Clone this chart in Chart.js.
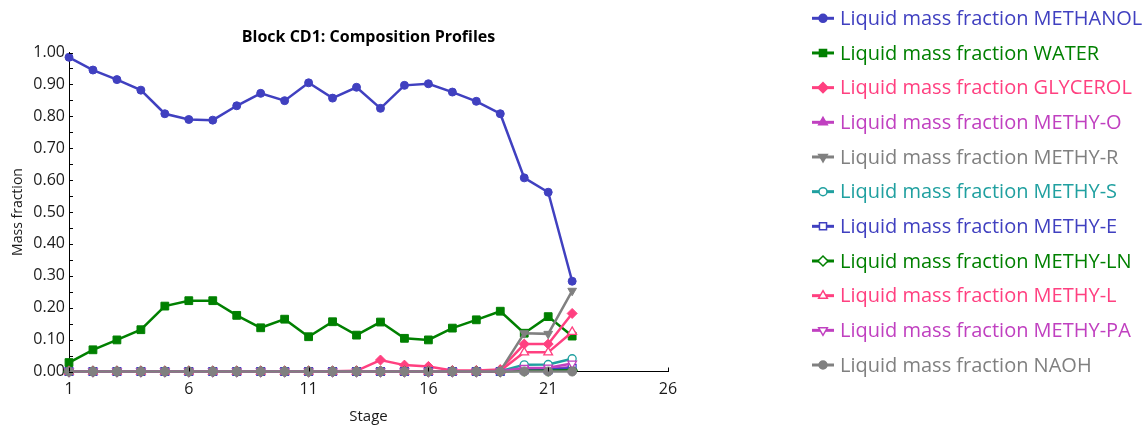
<!DOCTYPE html>
<html>
<head>
<meta charset="utf-8">
<script src="https://cdn.jsdelivr.net/npm/chart.js@4/dist/chart.umd.min.js"></script>
<style>
  html, body { margin: 0; padding: 0; background: #fff; }
  #wrap { width: 1147px; height: 426px; }
</style>
</head>
<body>
<div id="wrap"><canvas id="profiles" width="1147" height="426"></canvas></div>
<script>
// Column stages and liquid mass fractions per component
const stages = [1, 2, 3, 4, 5, 6, 7, 8, 9, 10, 11, 12, 13, 14, 15, 16, 17, 18, 19, 20, 21, 22];

const methanol = [0.985, 0.945, 0.915, 0.882, 0.808, 0.790, 0.788, 0.833, 0.872, 0.849, 0.905,
                  0.857, 0.891, 0.825, 0.897, 0.902, 0.876, 0.847, 0.808, 0.607, 0.562, 0.283];
const water    = [0.028, 0.068, 0.099, 0.131, 0.205, 0.222, 0.222, 0.176, 0.137, 0.164, 0.109,
                  0.156, 0.114, 0.155, 0.104, 0.099, 0.136, 0.162, 0.189, 0.120, 0.172, 0.111];
const glycerol = [0, 0, 0, 0, 0, 0.001, 0.001, 0.001, 0.001, 0.001, 0.001,
                  0.001, 0.002, 0.036, 0.020, 0.016, 0.003, 0.003, 0.006, 0.086, 0.086, 0.182];
const methyO   = [0, 0, 0, 0, 0, 0, 0, 0, 0, 0, 0,
                  0, 0, 0, 0, 0, 0, 0, 0.001, 0.008, 0.008, 0.014];
const methyR   = [0, 0, 0, 0, 0, 0, 0, 0, 0, 0, 0,
                  0, 0, 0, 0, 0, 0, 0, 0.002, 0.120, 0.118, 0.253];
const methyS   = [0, 0, 0, 0, 0, 0, 0, 0, 0, 0, 0,
                  0, 0, 0, 0, 0, 0, 0, 0.001, 0.021, 0.022, 0.040];
const methyE   = [0, 0, 0, 0, 0, 0, 0, 0, 0, 0, 0,
                  0, 0, 0, 0, 0, 0, 0, 0, 0.006, 0.006, 0.010];
const methyLN  = [0, 0, 0, 0, 0, 0, 0, 0, 0, 0, 0,
                  0, 0, 0, 0, 0, 0, 0, 0, 0.002, 0.002, 0.004];
const methyL   = [0, 0, 0, 0, 0, 0, 0, 0, 0, 0, 0,
                  0, 0, 0, 0, 0, 0, 0, 0.002, 0.060, 0.060, 0.124];
const methyPA  = [0, 0, 0, 0, 0, 0, 0, 0, 0, 0, 0,
                  0, 0, 0, 0, 0, 0, 0, 0.001, 0.011, 0.012, 0.025];
const naoh     = [0, 0, 0, 0, 0, 0, 0, 0, 0, 0, 0,
                  0, 0, 0, 0, 0, 0, 0, 0, 0, 0, 0];

const xTicks = [1, 6, 11, 16, 21, 26];

const BLUE = '#4040c0', GREEN = '#008000', PINK = '#ff4080', PURPLE = '#c040c0',
      GREY = '#808080', TEAL = '#20a0a0';

// name, values, colour, marker shape, rotation, filled
const series = [
    ['METHANOL', methanol, BLUE,   'circle',   0,   true],
    ['WATER',    water,    GREEN,  'rect',     0,   true],
    ['GLYCEROL', glycerol, PINK,   'rectRot',  0,   true],
    ['METHY-O',  methyO,   PURPLE, 'triangle', 0,   true],
    ['METHY-R',  methyR,   GREY,   'triangle', 180, true],
    ['METHY-S',  methyS,   TEAL,   'circle',   0,   false],
    ['METHY-E',  methyE,   BLUE,   'rect',     0,   false],
    ['METHY-LN', methyLN,  GREEN,  'rectRot',  0,   false],
    ['METHY-L',  methyL,   PINK,   'triangle', 0,   false],
    ['METHY-PA', methyPA,  PURPLE, 'triangle', 180, false],
    ['NAOH',     naoh,     GREY,   'circle',   0,   true],
];

const markerRadius = { circle: 4, rect: 5.5, rectRot: 5, triangle: 5 };

const datasets = series.map(([name, values, color, shape, rot, filled], i) => ({
    label: 'Liquid mass fraction ' + name,
    data: stages.map((s, k) => ({ x: s, y: values[k] })),
    borderColor: color,
    backgroundColor: color,
    borderWidth: 2.5,
    pointStyle: shape,
    pointRotation: rot,
    pointRadius: name === 'NAOH' ? 4.5 : markerRadius[shape],
    pointBackgroundColor: filled ? color : '#ffffff',
    pointBorderColor: color,
    pointBorderWidth: filled ? 1 : 1.3,
    tension: 0,
    clip: false,
    order: series.length - i
}));

const FONT = 'Open Sans';

// inward tick marks on both axes (minor ticks every 0.05 on y)
const innerTicks = {
    id: 'innerTicks',
    afterDraw(chart) {
        const { ctx, scales: { x, y } } = chart;
        ctx.save();
        ctx.strokeStyle = '#000';
        ctx.lineWidth = 1;
        ctx.beginPath();
        for (let k = 0; k <= 20; k++) {
            const py = Math.round(y.getPixelForValue(k * 0.05)) + 0.5;
            ctx.moveTo(x.left, py);
            ctx.lineTo(x.left + 4, py);
        }
        xTicks.forEach(t => {
            const px = Math.round(x.getPixelForValue(t)) + 0.5;
            ctx.moveTo(px, y.bottom);
            ctx.lineTo(px, y.bottom - 4);
        });
        ctx.stroke();
        ctx.restore();
    }
};

// legend on the right, line + marker and coloured text per series
const sideLegend = {
    id: 'sideLegend',
    afterDraw(chart) {
        const ctx = chart.ctx;
        const x0 = 812, x1 = 834, tx = 840, top = 18.3, step = 34.67;
        ctx.save();
        ctx.font = '20px "' + FONT + '"';
        ctx.textBaseline = 'middle';
        chart.data.datasets.forEach((ds, i) => {
            const cy = top + i * step;
            ctx.strokeStyle = ds.borderColor;
            ctx.lineWidth = 3;
            ctx.beginPath();
            ctx.moveTo(x0, cy);
            ctx.lineTo(x1, cy);
            ctx.stroke();
            ctx.fillStyle = ds.pointBackgroundColor;
            ctx.strokeStyle = ds.pointBorderColor;
            ctx.lineWidth = 1.5;
            Chart.helpers.drawPoint(ctx, {
                pointStyle: ds.pointStyle,
                rotation: ds.pointRotation,
                radius: ds.pointStyle === 'circle' ? 4 : 5,
                borderWidth: 1.5
            }, (x0 + x1) / 2, cy);
            ctx.fillStyle = ds.borderColor;
            ctx.fillText(ds.label, tx, cy + 1);
        });
        ctx.restore();
    }
};

new Chart(document.getElementById('profiles'), {
    type: 'line',
    data: { datasets: datasets },
    plugins: [innerTicks, sideLegend],
    options: {
        responsive: false,
        animation: false,
        layout: { padding: { left: 0, right: 479, top: 0, bottom: 0 } },
        scales: {
            x: {
                type: 'linear',
                min: 1,
                max: 26,
                afterFit: s => { s.height = 54.5; },
                afterBuildTicks: s => { s.ticks = xTicks.map(v => ({ value: v })); },
                grid: { display: false, drawTicks: false },
                border: { display: true, color: '#000', width: 1 },
                ticks: { color: '#1a1a1a', padding: 8, font: { family: FONT, size: 16 } },
                title: { display: true, text: 'Stage', color: '#1a1a1a',
                         font: { family: FONT, size: 15 }, padding: { top: 0, bottom: 0 } }
            },
            y: {
                min: 0,
                max: 1,
                afterFit: s => { s.width = 69; },
                grid: { display: false, drawTicks: false },
                border: { display: true, color: '#000', width: 1 },
                ticks: {
                    stepSize: 0.1,
                    color: '#1a1a1a',
                    padding: 4,
                    font: { family: FONT, size: 16 },
                    callback: v => v.toFixed(2)
                },
                title: { display: true, text: 'Mass fraction', color: '#1a1a1a',
                         font: { family: FONT, size: 14 }, padding: { top: 10 } }
            }
        },
        plugins: {
            legend: { display: false },
            tooltip: { enabled: false },
            title: {
                display: true,
                fullSize: false,
                text: 'Block CD1: Composition Profiles',
                color: '#000',
                font: { family: FONT, size: 16, weight: 'bold' },
                padding: { top: 27.5, bottom: 5.8 }
            }
        }
    }
});
</script>
</body>
</html>
